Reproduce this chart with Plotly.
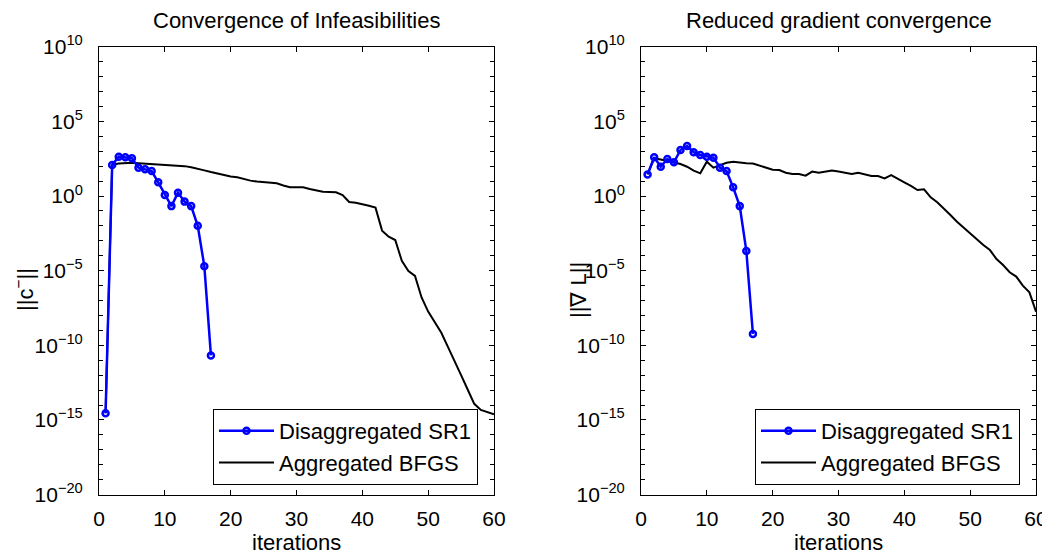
import plotly.graph_objects as go

# ---------------- data ----------------
iters_sr1 = list(range(1, 18))
iters_bfgs = list(range(1, 61))

infeas_sr1 = [2.8e-15, 120, 430, 390, 340, 79, 62, 47, 8.3, 1.17, 0.21, 1.66, 0.42,
              0.21, 0.01, 2.0e-5, 2.1e-11]

infeas_bfgs = [2.8e-15, 126, 148, 158, 166, 158, 148, 141, 141, 132, 112, 107, 100,
               83, 68, 52, 40, 32, 23, 20, 18, 13.5, 10.7, 9.3, 8.3, 7.9, 7.1, 5.0,
               3.8, 3.8, 3.8, 2.95, 2.5, 1.95, 1.86, 1.78, 1.17, 0.40, 0.355, 0.29,
               0.224, 0.166, 0.0048, 0.0019, 0.00112, 4.5e-5, 9.5e-6, 4.4e-6, 1.6e-7,
               1.8e-8, 3.8e-9, 6.9e-10, 7.9e-11, 1.0e-11, 1.0e-12, 1.1e-13, 1.2e-14,
               4.7e-15, 3.5e-15, 2.4e-15]

grad_sr1 = [28, 390, 91, 300, 182, 1200, 2240, 850, 560, 430, 370, 79, 47, 3.8, 0.21,
            2.1e-4, 5.8e-10]

grad_bfgs = [28, 330, 280, 230, 182, 138, 91, 50, 33, 200, 79, 120, 170, 200, 170, 155,
             148, 112, 83, 58, 55, 36, 30, 30, 23, 43, 36, 43, 50, 43, 36, 30, 36, 28,
             22, 22, 15, 25, 15, 8.3, 4.7, 2.5, 2.8, 0.81, 0.38, 0.148, 0.054, 0.019,
             0.0076, 0.0032, 0.0013, 5.2e-4, 2.4e-4, 6.0e-5, 2.4e-5, 7.8e-6, 4.0e-6,
             1.0e-6, 3.5e-7, 1.8e-8]

x_ticks = [0, 10, 20, 30, 40, 50, 60]
y_tickvals = [1e-20, 1e-15, 1e-10, 1e-5, 1e0, 1e5, 1e10]
y_ticktext = ["10<sup>−20</sup>", "10<sup>−15</sup>", "10<sup>−10</sup>", "10<sup>−5</sup>",
              "10<sup>0</sup>", "10<sup>5</sup>", "10<sup>10</sup>"]
y_minor = [10.0 ** k for k in range(-20, 11)]

titles = ["Convergence of Infeasibilities", "Reduced gradient convergence"]
ylabels = ["||c<sup>−</sup>||", "||∇ L||"]
names = ["Disaggregated SR1", "Aggregated BFGS"]

FONT = "Liberation Sans, Arial, Helvetica, sans-serif"
BLUE = "#0000FF"

# page body has an 8px margin: work in screen pixels, convert to paper fractions
OFF = 8
W, H = 1050 - OFF, 554 - OFF


def px(sx):
    return (sx - OFF) / W


def py(sy):
    return (H - (sy - OFF)) / H


fig = go.Figure()

for k, (ys1, ysb) in enumerate([(infeas_sr1, infeas_bfgs), (grad_sr1, grad_bfgs)]):
    xa = "x" if k == 0 else "x2"
    ya = "y" if k == 0 else "y2"
    lg = "legend" if k == 0 else "legend2"
    fig.add_trace(go.Scatter(
        x=iters_bfgs, y=ysb, mode="lines", name=names[1],
        line=dict(color="black", width=2), xaxis=xa, yaxis=ya, legend=lg,
        legendrank=2))
    fig.add_trace(go.Scatter(
        x=iters_sr1, y=ys1, mode="lines+markers", name=names[0],
        line=dict(color=BLUE, width=2.5),
        marker=dict(symbol="circle-open", size=6, color=BLUE,
                    line=dict(width=2.5, color=BLUE)),
        xaxis=xa, yaxis=ya, legend=lg, legendrank=1))

xdoms = [[px(99), px(494)], [px(641), px(1036)]]
ydom = [py(494.6), py(46.7)]

axis_common = dict(showline=True, linecolor="black", linewidth=1, mirror="ticks",
                   ticks="inside", tickcolor="black", showgrid=False, zeroline=False,
                   automargin=False,
                   tickfont=dict(family=FONT, size=21, color="black"))

layout = dict(
    width=W, height=H,
    margin=dict(l=0, r=0, t=0, b=0, autoexpand=False),
    paper_bgcolor="white", plot_bgcolor="white",
    font=dict(family=FONT, size=22, color="black"),
    annotations=[],
)

for k in range(2):
    sx = "" if k == 0 else "2"
    layout["xaxis" + sx] = dict(axis_common, domain=xdoms[k], range=[0, 60],
                                tickmode="array", tickvals=x_ticks, ticklen=5,
                                anchor="y" + sx, ticklabelstandoff=5)
    layout["yaxis" + sx] = dict(axis_common, domain=ydom, type="log", range=[-20, 10],
                                tickmode="array", tickvals=y_tickvals, ticktext=y_ticktext,
                                ticklen=5, anchor="x" + sx, ticklabelstandoff=11,
                                minor=dict(tickmode="array", tickvals=y_minor, ticks="inside",
                                           ticklen=4, tickcolor="black"))
    cx = (xdoms[k][0] + xdoms[k][1]) / 2
    layout["annotations"].append(dict(text=titles[k], x=cx, y=py(20),
                                      xref="paper", yref="paper", showarrow=False,
                                      xanchor="center", yanchor="middle",
                                      font=dict(size=22)))
    layout["annotations"].append(dict(text="iterations", x=cx, y=py(542),
                                      xref="paper", yref="paper", showarrow=False,
                                      xanchor="center", yanchor="middle",
                                      font=dict(size=22)))
    layout["annotations"].append(dict(text=ylabels[k], x=px(24 if k == 0 else 579),
                                      y=py(290), xref="paper", yref="paper",
                                      showarrow=False, textangle=-90,
                                      xanchor="center", yanchor="middle",
                                      font=dict(size=22)))
    layout["legend" + ("" if k == 0 else "2")] = dict(
        x=px(478 if k == 0 else 1020), y=py(485),
        xanchor="right", yanchor="bottom", bgcolor="white",
        bordercolor="black", borderwidth=1, font=dict(size=22),
        itemwidth=55, tracegroupgap=0)

fig.update_layout(**layout)
fig.write_html("out.html")
